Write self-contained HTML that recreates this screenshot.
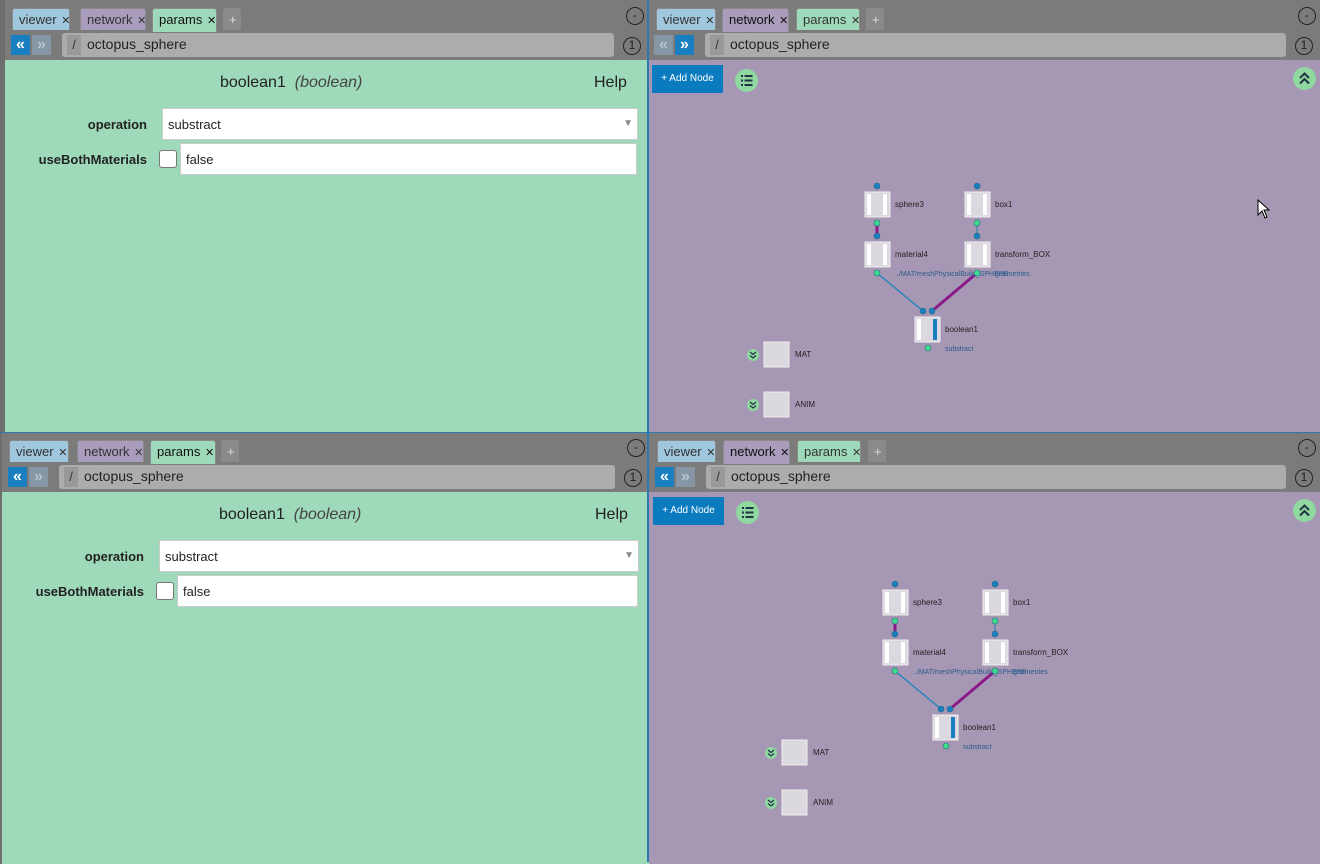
<!DOCTYPE html>
<html><head><meta charset="utf-8">
<style>
*{box-sizing:border-box;margin:0;padding:0}
body{width:1320px;height:862px;position:relative;overflow:hidden;background:#6e6e6e;font-family:"Liberation Sans",sans-serif}
.a{position:absolute}
.tab{position:absolute;height:22px;border:1px solid #8a8a8a;border-bottom:none;border-radius:3px 3px 0 0;font-size:13px;color:#333;padding:3px 0 0 6px;white-space:nowrap;overflow:hidden}
.circ{position:absolute;width:18px;height:18px;border:1.5px solid #222;border-radius:50%;font-size:12px;text-align:center;line-height:15px;color:#222}
.nb{position:absolute;width:19px;height:20px;color:#fff;font-size:16px;font-weight:bold;text-align:center;line-height:19px}
.path{position:absolute;height:24px;background:#acacac;border-radius:3px}
.lbl{position:absolute;font-size:13px;font-weight:bold;color:#222;text-align:right}
.inp{position:absolute;background:#fff;border:1px solid #ccc;font-size:13px;color:#222;padding:8px 0 0 5px}
</style></head><body>
<div id="root"></div>
<script>
let h='';
function hdr(x,y,w,active,navBlue,tp){
  h+=`<div class="a" style="left:${x}px;top:${y}px;width:${w}px;height:60px;background:#7b7b7b"></div>`;
  const names=['viewer','network','params'],cols=['#9fc7de','#a99cbc','#9ed9b9'];
  for(let i=0;i<3;i++){
    h+=`<div class="tab" style="left:${tp[i][0]}px;top:${y+8}px;width:${tp[i][1]}px;background:${cols[i]};${active==i?'color:#111;height:24px':''}">${names[i]} <span style="font-size:11px;margin-left:1px">✕</span></div>`;
  }
  h+=`<div class="tab" style="left:${tp[3][0]}px;top:${y+8}px;width:${tp[3][1]}px;background:#8a8a8a;padding-left:5px;color:#ddd">+</div>`;
  h+=`<div class="circ" style="left:${x+w-22}px;top:${y+7}px">-</div>`;
  h+=`<div class="circ" style="left:${x+w-25}px;top:${y+37}px">1</div>`;
  h+=`<div class="nb" style="left:${x+6}px;top:${y+35}px;background:${navBlue==0?'#1a7fc0':'#8696a4'};color:${navBlue==0?'#fff':'#b8c4cc'}">«</div>`;
  h+=`<div class="nb" style="left:${x+27}px;top:${y+35}px;background:${navBlue==1?'#1a7fc0':'#8696a4'};color:${navBlue==1?'#fff':'#b8c4cc'}">»</div>`;
  h+=`<div class="path" style="left:${x+57}px;top:${y+33}px;width:${w-91}px"></div>`;
  h+=`<div class="a" style="left:${x+62}px;top:${y+35}px;width:14px;height:20px;background:#999;font-size:13px;color:#333;text-align:center;line-height:20px">/</div>`;
  h+=`<div class="a" style="left:${x+82}px;top:${y+36}px;font-size:14px;color:#222">octopus_sphere</div>`;
}
function params(x,y,w,tx,tp){
  hdr(x,y,w,2,0,tp);
  h+=`<div class="a" style="left:${x}px;top:${y+60}px;width:${w}px;height:372px;background:#9ed9b9"></div>`;
  h+=`<div class="a" style="left:${tx}px;top:${y+74}px;font-size:16px;color:#222">boolean1 &nbsp;<i style="color:#444">(boolean)</i></div>`;
  h+=`<div class="a" style="left:${x+w-54}px;top:${y+74}px;font-size:16px;color:#222">Help</div>`;
  h+=`<div class="lbl" style="left:${x}px;width:${142}px;top:${y+117}px">operation</div>`;
  h+=`<div class="inp" style="left:${x+157}px;top:${y+108}px;width:${w-167}px;height:32px">substract<span style="position:absolute;right:4px;top:9px;color:#888;font-size:10px">▼</span></div>`;
  h+=`<div class="lbl" style="left:${x}px;width:${142}px;top:${y+152}px">useBothMaterials</div>`;
  h+=`<div class="a" style="left:${x+154}px;top:${y+150}px;width:18px;height:18px;background:#fff;border:1px solid #777;border-radius:3px"></div>`;
  h+=`<div class="inp" style="left:${x+175}px;top:${y+143}px;width:${w-186}px;height:32px">false</div>`;
}
function net(x,y,w,ox,oy,navBlue,tp){
  hdr(x,y,w,1,navBlue,tp);
  h+=`<div class="a" style="left:${x}px;top:${y+60}px;width:${w}px;height:372px;background:#a698b4"></div>`;
  h+=`<div class="a" style="left:${x+4}px;top:${y+65}px;width:71px;height:28px;background:#0b7bc0;color:#fff;font-size:10px;text-align:center;line-height:28px">+ Add Node</div>`;
  h+=`<svg class="a" style="left:${x+87}px;top:${y+69}px" width="23" height="23"><circle cx="11.5" cy="11.5" r="11.5" fill="#8fd8a0"/><g fill="#234"><rect x="6" y="6" width="2" height="2"/><rect x="6" y="10.5" width="2" height="2"/><rect x="6" y="15" width="2" height="2"/><rect x="9.5" y="6" width="8" height="2"/><rect x="9.5" y="10.5" width="8" height="2"/><rect x="9.5" y="15" width="8" height="2"/></g></svg>`;
  h+=`<svg class="a" style="left:${x+w-27}px;top:${y+67}px" width="23" height="23"><circle cx="11.5" cy="11.5" r="11.5" fill="#8fd8a0"/><path d="M7 11 L11.5 6.5 L16 11 M7 16.5 L11.5 12 L16 16.5" stroke="#234" stroke-width="2" fill="none"/></svg>`;
  let s=`<svg class="a" style="left:0;top:0" width="1320" height="862" font-family="Liberation Sans" font-size="8">`;
  const X=v=>v+ox, Y=v=>v+oy;
  s+=`<line x1="${X(877)}" y1="${Y(223)}" x2="${X(877)}" y2="${Y(236)}" stroke="#8a1a8a" stroke-width="3"/>`;
  s+=`<line x1="${X(977)}" y1="${Y(223)}" x2="${X(977)}" y2="${Y(236)}" stroke="#3f7fa8" stroke-width="1.2"/>`;
  s+=`<line x1="${X(877)}" y1="${Y(273)}" x2="${X(923)}" y2="${Y(311)}" stroke="#1a7fc0" stroke-width="1.2"/>`;
  s+=`<line x1="${X(977)}" y1="${Y(273)}" x2="${X(932)}" y2="${Y(311)}" stroke="#8a1a8a" stroke-width="3"/>`;
  function node(cx,top,label,sub,bar){
    s+=`<rect x="${X(cx-12)}" y="${Y(top)}" width="25" height="25" fill="#dcd8e0" stroke="#eee"/>`;
    s+=`<rect x="${X(cx-10)}" y="${Y(top+2)}" width="4" height="21" fill="#fff"/><rect x="${X(cx+6)}" y="${Y(top+2)}" width="4" height="21" fill="${bar?'#1a7fc0':'#fff'}"/>`;
    s+=`<text x="${X(cx+18)}" y="${Y(top+15)}" fill="#222">${label}</text>`;
    if(sub)s+=`<text x="${X(cx+18)}" y="${Y(top+34)}" fill="#2a5a8a" font-size="7">${sub}</text>`;
  }
  node(877,192,'sphere3');node(977,192,'box1');
  node(877,242,'material4','../MAT/meshPhysicalBuild_SPHERE');node(977,242,'transform_BOX','');
  s+=`<text x="${X(995)}" y="${Y(276)}" fill="#2a5a8a" font-size="7">geometries</text>`;
  node(927,317,'boolean1','substract',true);
  const dot=(cx,cy,c)=>s+=`<circle cx="${X(cx)}" cy="${Y(cy)}" r="3" fill="${c}" stroke="#2a6a8a" stroke-width=".6"/>`;
  [[877,186],[977,186],[877,236],[977,236],[923,311],[932,311]].forEach(p=>dot(p[0],p[1],'#1a7fc0'));
  [[877,223],[977,223],[877,273],[977,273],[928,348]].forEach(p=>dot(p[0],p[1],'#3ddc8a'));
  [['MAT',342],['ANIM',392]].forEach(m=>{
    s+=`<rect x="${X(764)}" y="${Y(m[1])}" width="25" height="25" fill="#dcd8e0" stroke="#eee"/>`;
    s+=`<text x="${X(795)}" y="${Y(m[1]+15)}" fill="#222">${m[0]}</text>`;
    s+=`<circle cx="${X(753)}" cy="${Y(m[1]+13)}" r="6" fill="#8fd8a0"/><path d="M${X(750)} ${Y(m[1]+10)} l3 2.5 l3 -2.5 M${X(750)} ${Y(m[1]+13.5)} l3 2.5 l3 -2.5" stroke="#234" stroke-width="1.2" fill="none"/>`;
  });
  s+=`</svg>`;h+=s;
}
params(5,0,643,220,[[12,58],[80,66],[152,65],[223,18]]);
net(648,0,672,0,0,1,[[656,60],[722,67],[796,64],[866,18]]);
params(2,432,647,219,[[9,60],[77,67],[150,66],[221,18]]);
net(649,432,671,18,398,0,[[657,59],[723,67],[797,64],[868,18]]);
h+=`<div class="a" style="left:647px;top:0;width:2px;height:862px;background:#2a7ab0"></div>`;
h+=`<div class="a" style="left:0;top:432px;width:1320px;height:1px;background:#2a7ab0"></div>`;
h+=`<svg class="a" style="left:1257px;top:199px" width="14" height="22"><path d="M1 1 L1 16 L5 12 L8 19 L10 18 L7 11 L12 11 Z" fill="#fff" stroke="#000"/></svg>`;
document.getElementById('root').innerHTML=h;
</script>
</body></html>
